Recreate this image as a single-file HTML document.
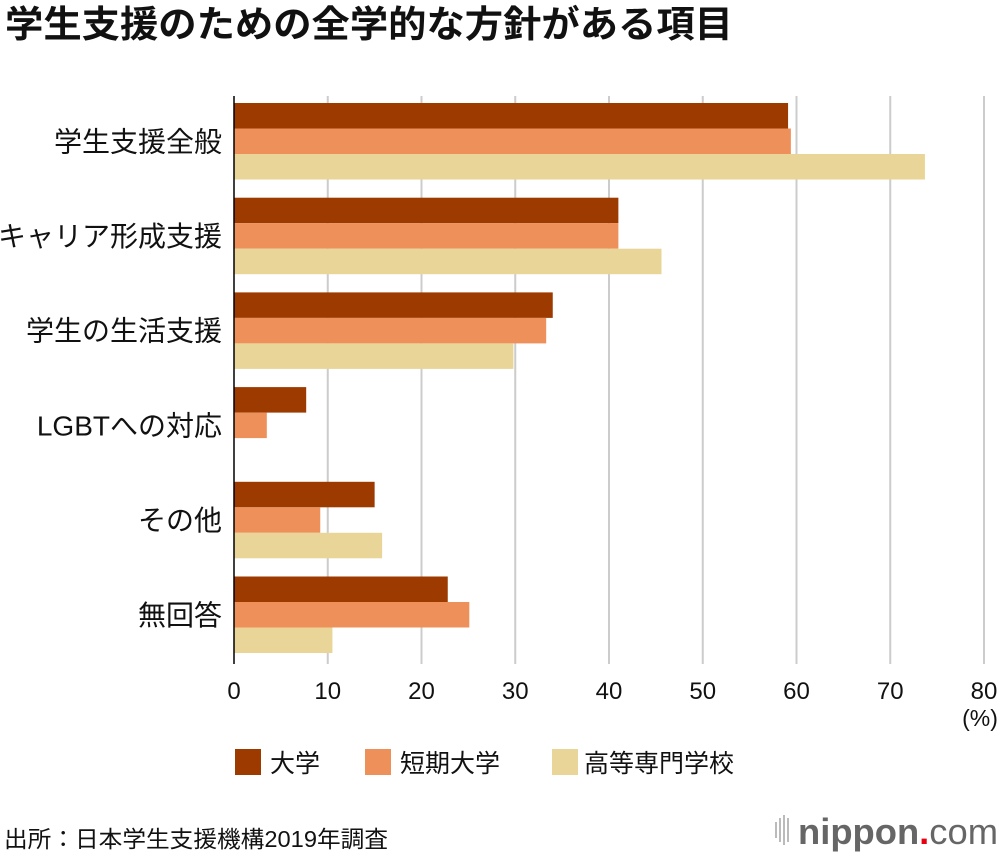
<!DOCTYPE html>
<html><head><meta charset="utf-8"><style>
body{margin:0;background:#fff;}
svg{display:block;font-family:"Liberation Sans","Noto Sans CJK JP",sans-serif;}
</style></head><body>
<svg id="chart" width="1000" height="856" viewBox="0 0 1000 856">
<text x="5" y="37" font-size="37" font-weight="bold" fill="#111" textLength="728" lengthAdjust="spacingAndGlyphs">学生支援のための全学的な方針がある項目</text>
<g id="grid"></g><g id="bars"></g><g id="labels"></g>
<line x1="234" y1="96" x2="234" y2="664" stroke="#000" stroke-width="1.5"/>
<text x="980" y="726" font-size="23" text-anchor="middle" fill="#111">(%)</text>
<g>
<rect x="235" y="749" width="26" height="26" fill="#9c3a00"/>
<text x="270" y="772" font-size="25" fill="#111">大学</text>
<rect x="365" y="749" width="26" height="26" fill="#ee905a"/>
<text x="400" y="772" font-size="25" fill="#111">短期大学</text>
<rect x="552" y="749" width="26" height="26" fill="#e9d597"/>
<text x="584" y="772" font-size="25" fill="#111">高等専門学校</text>
</g>
<text x="4" y="847" font-size="23" fill="#111" textLength="384" lengthAdjust="spacingAndGlyphs">出所：日本学生支援機構2019年調査</text>
<g>
<rect x="775" y="822" width="2" height="16" fill="#bbb"/><rect x="779" y="818" width="2" height="24" fill="#bbb"/><rect x="783" y="815" width="2" height="30" fill="#bbb"/><rect x="787" y="818" width="2" height="24" fill="#bbb"/>
<text x="798" y="844" font-size="36" fill="#666" font-weight="bold" textLength="200" lengthAdjust="spacingAndGlyphs">nippon<tspan fill="#e60012">.</tspan><tspan font-weight="normal">com</tspan></text>
</g>
</svg>
<script>
const categories=["学生支援全般","キャリア形成支援","学生の生活支援","LGBTへの対応","その他","無回答"];
const daigaku=[59.1,41.0,34.0,7.7,15.0,22.8];
const tanki=[59.4,41.0,33.3,3.5,9.2,25.1];
const kosen=[73.7,45.6,29.8,0,15.8,10.5];
const ticks=[0,10,20,30,40,50,60,70,80];
const NS="http://www.w3.org/2000/svg";
const x0=234,x1=984,xmax=80,top0=95,bandH=94.7,barH=25.5,off=8;
const xs=v=>x0+(v/xmax)*(x1-x0);
const grid=document.getElementById('grid'),bars=document.getElementById('bars'),labels=document.getElementById('labels');
ticks.forEach(t=>{
 if(t>0){const l=document.createElementNS(NS,'line');
 l.setAttribute('x1',xs(t));l.setAttribute('x2',xs(t));l.setAttribute('y1',96);l.setAttribute('y2',664);
 l.setAttribute('stroke','#ccc');l.setAttribute('stroke-width','2');
 
 
 grid.appendChild(l);}
 const tx=document.createElementNS(NS,'text');
 tx.setAttribute('x',xs(t));tx.setAttribute('y',699);tx.setAttribute('font-size','24');tx.setAttribute('text-anchor','middle');tx.setAttribute('fill','#111');
 tx.textContent=t;
 
 
 labels.appendChild(tx);
});
const series=[[daigaku,'#9c3a00','bar-daigaku'],[tanki,'#ee905a','bar-tanki'],[kosen,'#e9d597','bar-kosen']];
categories.forEach((c,i)=>{
 const gy=top0+i*bandH;
 series.forEach((s,j)=>{
  const v=s[0][i];if(v<=0)return;
  const r=document.createElementNS(NS,'rect');
  r.setAttribute('x',x0);r.setAttribute('y',gy+off+j*barH);r.setAttribute('width',xs(v)-x0);r.setAttribute('height',barH);r.setAttribute('fill',s[1]);
  
  
  bars.appendChild(r);
 });
 const tx=document.createElementNS(NS,'text');
 tx.setAttribute('x',222);tx.setAttribute('y',gy+off+1.5*barH+10);tx.setAttribute('font-size','28');tx.setAttribute('text-anchor','end');tx.setAttribute('fill','#111');
 tx.textContent=c;
 
 
 labels.appendChild(tx);
});
</script>
</body></html>
